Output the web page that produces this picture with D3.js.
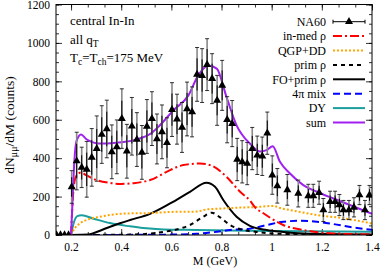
<!DOCTYPE html>
<html>
<head>
<meta charset="utf-8">
<script src="https://cdn.jsdelivr.net/npm/d3@7"></script>
<style>
  body { margin: 0; background: #fff; }
  svg text { font-family: "Liberation Serif", "DejaVu Serif", serif; }
</style>
</head>
<body>
<div id="chart"></div>
<script>
// NA60 data: mass (GeV), counts, error
var naMass = [0.142, 0.158, 0.174, 0.19,
  0.2025, 0.2225, 0.2425, 0.2625, 0.2825, 0.3025, 0.3225, 0.3425, 0.3625, 0.3825,
  0.4025, 0.4225, 0.4425, 0.4625, 0.4825, 0.5025, 0.5225, 0.5425, 0.5625, 0.5825,
  0.6025, 0.6225, 0.6425, 0.6625, 0.6825, 0.7025, 0.7225, 0.7425, 0.7625, 0.7825,
  0.8025, 0.8225, 0.8425, 0.8625, 0.8825, 0.9025, 0.9225, 0.9425, 0.9625, 0.9825,
  1.0025, 1.0225, 1.0625, 1.106, 1.146, 1.166, 1.189, 1.206, 1.233, 1.253, 1.27,
  1.286, 1.308, 1.328, 1.35, 1.372, 1.39];
var naCounts = [0, 0, 0, 0,
  250, 385, 352, 342, 404, 450, 523, 552, 433, 459,
  606, 436, 566, 497, 430, 565, 606, 500, 537, 480,
  653, 603, 560, 656, 641, 836, 830, 887, 814, 701,
  779, 600, 580, 393, 381, 372, 450, 415, 410, 530,
  312, 256, 235, 216, 204, 204, 220, 130, 173, 173, 156,
  130, 130, 144, 208, 130, 208];
var naErr = [0, 0, 0, 0,
  85, 150, 105, 145, 150, 170, 150, 150, 140, 140,
  155, 140, 150, 140, 140, 140, 140, 130, 140, 130,
  140, 130, 130, 140, 130, 140, 140, 135, 130, 130,
  130, 120, 120, 110, 110, 110, 110, 100, 100, 110,
  100, 90, 80, 70, 60, 60, 60, 60, 55, 55, 55,
  50, 50, 50, 50, 50, 50];

// model curves [mass, counts]
var inMedRho = [[0.2, 0], [0.21, 240], [0.22, 305], [0.24, 325], [0.26, 312], [0.30, 287],
  [0.35, 272], [0.40, 266], [0.45, 270], [0.515, 286], [0.595, 338], [0.648, 364],
  [0.714, 372], [0.754, 364], [0.82, 303], [0.874, 225], [0.913, 180], [0.933, 145],
  [0.967, 113], [1.0, 85], [1.046, 52], [1.126, 26], [1.245, 8], [1.4, 3]];
var qgpDD = [[0.2, 0], [0.215, 35], [0.236, 61], [0.27, 82], [0.315, 95], [0.42, 112],
  [0.515, 114], [0.595, 120], [0.70, 122], [0.74, 133], [0.807, 138], [0.874, 143],
  [0.93, 145], [0.953, 147], [1.006, 151], [1.04, 138], [1.073, 130], [1.18, 104],
  [1.286, 87], [1.4, 60]];
var primRho = [[0.2, 0], [0.435, 2], [0.52, 8], [0.568, 16], [0.621, 29], [0.674, 52],
  [0.727, 95], [0.761, 116], [0.794, 92], [0.834, 52], [0.887, 26], [0.94, 16],
  [1.0, 8], [1.2, 3], [1.4, 1]];
var foPrimRho = [[0.2, 0], [0.27, 2], [0.289, 9], [0.34, 35], [0.395, 61], [0.435, 78],
  [0.515, 110], [0.595, 164], [0.674, 225], [0.74, 272], [0.774, 251], [0.807, 182],
  [0.86, 95], [0.913, 48], [0.98, 26], [1.046, 16], [1.126, 8], [1.25, 4], [1.4, 2]];
var mix4pi = [[0.2, 0], [0.5, 1], [0.6, 2], [0.7, 6], [0.77, 15], [0.834, 26], [0.913, 33],
  [0.98, 52], [1.046, 69], [1.113, 74], [1.18, 69], [1.246, 57], [1.313, 42], [1.4, 27]];
var dy = [[0.2, 0], [0.21, 60], [0.225, 98], [0.242, 103], [0.29, 85], [0.355, 62],
  [0.435, 45], [0.488, 36], [0.568, 29], [0.70, 26], [0.834, 23], [1.0, 21], [1.4, 17]];
var sum = [[0.2, 0], [0.205, 150], [0.213, 380], [0.222, 490], [0.24, 523], [0.26, 500],
  [0.28, 486], [0.30, 478], [0.32, 476], [0.36, 478], [0.40, 483], [0.44, 490],
  [0.48, 505], [0.52, 530], [0.548, 563], [0.608, 649], [0.668, 727], [0.707, 831],
  [0.747, 883], [0.781, 866], [0.82, 718], [0.86, 571], [0.913, 476], [0.953, 435],
  [0.98, 442], [1.004, 462], [1.033, 381], [1.073, 320], [1.126, 260], [1.18, 225],
  [1.246, 190], [1.312, 156], [1.4, 110]];

var legendNames = ['NA60', 'in-med \u03c1', 'QGP+DD', 'prim \u03c1', 'FO+prim \u03c1', '4\u03c0 mix', 'DY', 'sum'];

var xTicks = [0.2, 0.4, 0.6, 0.8, 1.0, 1.2, 1.4];
var yTicks = [0, 200, 400, 600, 800, 1000, 1200];

var W = 382, H = 268;
var mLeft = 56, mRight = 372, mTop = 4.5, mBottom = 235;

var svg = d3.select('#chart').append('svg')
    .attr('width', W)
    .attr('height', H);

var x = d3.scaleLinear().domain([0.14, 1.4]).range([mLeft, mRight]);
var y = d3.scaleLinear().domain([0, 1200]).range([mBottom, mTop]);

var xMinor = d3.range(0.2, 1.4001, 0.2 / 3);
var yMinor = d3.range(0, 1201, 50);

// axes, ticks pointing inward
svg.append('g').attr('class', 'ax')
    .attr('transform', 'translate(0,' + mBottom + ')')
    .call(d3.axisBottom(x).tickValues(xMinor).tickSize(-3).tickFormat(''));
svg.append('g').attr('class', 'ax')
    .attr('transform', 'translate(0,' + mBottom + ')')
    .call(d3.axisBottom(x).tickValues(xTicks).tickSize(-6).tickPadding(8)
        .tickFormat(function (d) { return d === 1 ? '1' : d3.format('.1f')(d); }));
svg.append('g').attr('class', 'ax')
    .attr('transform', 'translate(0,' + mTop + ')')
    .call(d3.axisTop(x).tickValues(xMinor).tickSize(-3).tickFormat(''));
svg.append('g').attr('class', 'ax')
    .attr('transform', 'translate(0,' + mTop + ')')
    .call(d3.axisTop(x).tickValues(xTicks).tickSize(-6).tickFormat(''));
svg.append('g').attr('class', 'ax')
    .attr('transform', 'translate(' + mLeft + ',0)')
    .call(d3.axisLeft(y).tickValues(yMinor).tickSize(-3).tickFormat(''));
svg.append('g').attr('class', 'ax')
    .attr('transform', 'translate(' + mLeft + ',0)')
    .call(d3.axisLeft(y).tickValues(yTicks).tickSize(-6).tickPadding(6).tickFormat(d3.format('d')));
svg.append('g').attr('class', 'ax')
    .attr('transform', 'translate(' + mRight + ',0)')
    .call(d3.axisRight(y).tickValues(yMinor).tickSize(-3).tickFormat(''));
svg.append('g').attr('class', 'ax')
    .attr('transform', 'translate(' + mRight + ',0)')
    .call(d3.axisRight(y).tickValues(yTicks).tickSize(-6).tickFormat(''));

svg.selectAll('.ax .domain').remove();
svg.selectAll('.ax text')
    .style('font-family', '"Liberation Serif", serif')
    .style('font-size', '11.5px')
    .attr('fill', '#000');
svg.selectAll('.ax line').attr('stroke', '#000').attr('stroke-width', 0.8);

svg.append('clipPath').attr('id', 'clip')
    .append('rect').attr('x', mLeft).attr('y', mTop)
    .attr('width', mRight - mLeft).attr('height', mBottom - mTop);

var plot = svg.append('g').attr('clip-path', 'url(#clip)');

var line = d3.line()
    .x(function (d) { return x(d[0]); })
    .y(function (d) { return y(d[1]); })
    .curve(d3.curveMonotoneX);

var styles = [
    { data: dy, color: '#1a9e9e', dash: null },
    { data: mix4pi, color: '#0000ff', dash: '7,4' },
    { data: primRho, color: '#000', dash: '4,4' },
    { data: foPrimRho, color: '#000', dash: null },
    { data: qgpDD, color: '#ffa500', dash: '2,2' },
    { data: inMedRho, color: '#ff0000', dash: '9,3,2,3' },
    { data: sum, color: '#a020f0', dash: null }
];

styles.forEach(function (s) {
    plot.append('path')
        .attr('d', line(s.data))
        .attr('fill', 'none')
        .attr('stroke', s.color)
        .attr('stroke-width', 2)
        .attr('stroke-dasharray', s.dash);
});

// NA60 points
var pts = naMass.map(function (m, i) { return { m: m, c: naCounts[i], e: naErr[i] }; });
var withErr = pts.filter(function (d) { return d.e > 0; });
var gP = plot.append('g');
gP.selectAll('line.sys').data(withErr).enter().append('line')
    .attr('x1', function (d) { return x(d.m); }).attr('x2', function (d) { return x(d.m); })
    .attr('y1', function (d) { return y(d.c - d.e); }).attr('y2', function (d) { return y(d.c + d.e); })
    .attr('stroke', '#888').attr('stroke-width', 1.6);
gP.selectAll('line.stat').data(withErr).enter().append('line')
    .attr('x1', function (d) { return x(d.m); }).attr('x2', function (d) { return x(d.m); })
    .attr('y1', function (d) { return y(d.c - d.e * 0.6); }).attr('y2', function (d) { return y(d.c + d.e * 0.6); })
    .attr('stroke', '#000').attr('stroke-width', 1);
[1, -1].forEach(function (sg) {
    gP.selectAll('line.cap' + sg).data(withErr).enter().append('line')
        .attr('x1', function (d) { return x(d.m) - 2; }).attr('x2', function (d) { return x(d.m) + 2; })
        .attr('y1', function (d) { return y(d.c + sg * d.e); }).attr('y2', function (d) { return y(d.c + sg * d.e); })
        .attr('stroke', '#000').attr('stroke-width', 0.8);
});
var tri = d3.symbol().type(d3.symbolTriangle).size(28);
gP.selectAll('path.tri').data(pts).enter().append('path')
    .attr('d', tri)
    .attr('transform', function (d) { return 'translate(' + x(d.m) + ',' + y(d.c) + ')'; })
    .attr('fill', '#000');

// frame
svg.append('rect')
    .attr('x', mLeft).attr('y', mTop)
    .attr('width', mRight - mLeft).attr('height', mBottom - mTop)
    .attr('fill', 'none').attr('stroke', '#000').attr('stroke-width', 1);

// legend
var lg = svg.append('g').style('font-size', '12px');
var legendLines = [null, styles[5], styles[4], styles[2], styles[3], styles[1], styles[0], styles[6]];
legendNames.forEach(function (name, i) {
    var yy = 21.7 + i * 14.4;
    lg.append('text').attr('x', 326).attr('y', yy).attr('dy', '0.35em')
        .attr('text-anchor', 'end').text(name);
    if (i === 0) {
        lg.append('line').attr('x1', 333).attr('x2', 365).attr('y1', yy).attr('y2', yy)
            .attr('stroke', '#000').attr('stroke-width', 1);
        [333, 365].forEach(function (xx) {
            lg.append('line').attr('x1', xx).attr('x2', xx).attr('y1', yy - 2).attr('y2', yy + 2)
                .attr('stroke', '#000').attr('stroke-width', 1);
        });
        lg.append('path').attr('d', tri).attr('transform', 'translate(349,' + yy + ')');
    } else {
        var s = legendLines[i];
        lg.append('line').attr('x1', 333).attr('x2', 365).attr('y1', yy).attr('y2', yy)
            .attr('stroke', s.color).attr('stroke-width', 2)
            .attr('stroke-dasharray', s.dash);
    }
});

// annotations
var ann = svg.append('g').style('font-size', '13px');
ann.append('text').attr('x', 70).attr('y', 25).text('central In-In');
var t2 = ann.append('text').attr('x', 70).attr('y', 43.5);
t2.append('tspan').text('all q');
t2.append('tspan').attr('dy', 3).style('font-size', '9.5px').text('T');
var t3 = ann.append('text').attr('x', 70).attr('y', 62);
t3.append('tspan').text('T');
t3.append('tspan').attr('dy', 3).style('font-size', '9.5px').text('c');
t3.append('tspan').attr('dy', -3).text('=T');
t3.append('tspan').attr('dy', 3).style('font-size', '9.5px').text('ch');
t3.append('tspan').attr('dy', -3).text('=175 MeV');

// axis titles
svg.append('text').attr('x', 215).attr('y', 265).attr('text-anchor', 'middle')
    .style('font-size', '12px').text('M (GeV)');
var yl = svg.append('text').attr('transform', 'translate(14,125) rotate(-90)')
    .attr('text-anchor', 'middle').style('font-size', '13.5px');
yl.append('tspan').text('dN');
yl.append('tspan').attr('dy', 3).style('font-size', '10px').text('\u03bc\u03bc');
yl.append('tspan').attr('dy', -3).text('/dM (counts)');
</script>
</body>
</html>
